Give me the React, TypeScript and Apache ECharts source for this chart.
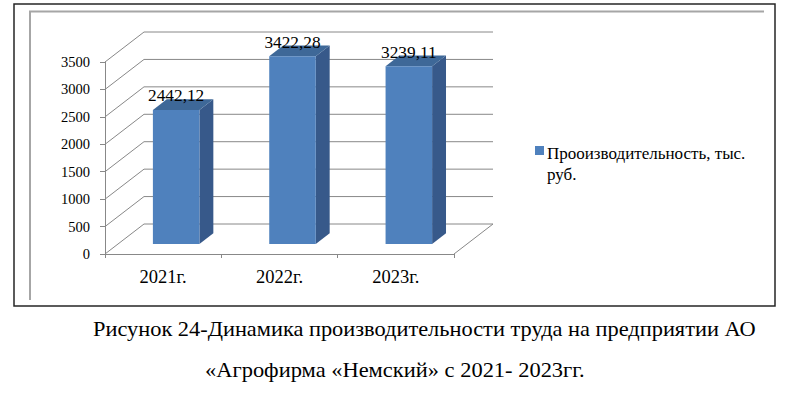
import React, { useEffect, useRef } from "react";
import * as echarts from "echarts";

const categories = ["2021г.", "2022г.", "2023г."];
const values = [2442.12, 3422.28, 3239.11];
const valueLabels = ["2442,12", "3422,28", "3239,11"];
const yTicks = [0, 500, 1000, 1500, 2000, 2500, 3000, 3500];
const seriesName = "Прооизводительность, тыс. руб.";
const captionLines = [
  "Рисунок 24-Динамика производительности труда на предприятии АО",
  "«Агрофирма «Немский» с 2021- 2023гг.",
];

const DX = 39;
const DY = -30;
const F1 = 1 / 3;
const F2 = 0.69;
const BAR_FRAC = 0.4;
const FONT = "Liberation Serif";
const font = (size: number) => `${size}px 'Liberation Serif', 'Times New Roman', serif`;
const FRONT = "#4F81BD";
const SIDE = "#37598A";
const TOP = "#3E6898";
const GRID = "#888888";

export default function App() {
  const ref = useRef<HTMLDivElement>(null);
  useEffect(() => {
    const chart = echarts.init(ref.current!, null, { renderer: "svg" });
    const option: any = {
      animation: false,
      grid: { left: 105, right: 346, top: 62, bottom: 143 },
      xAxis: {
        type: "category",
        data: categories,
        axisLine: { lineStyle: { color: GRID } },
        axisTick: { show: true, length: 4, lineStyle: { color: GRID } },
        axisLabel: { fontFamily: FONT, fontSize: 18.5, color: "#000", margin: 13 },
        splitLine: { show: false },
      },
      yAxis: {
        type: "value",
        min: 0,
        max: 3500,
        interval: 500,
        axisLine: { show: true, lineStyle: { color: GRID } },
        axisTick: { show: true, length: 5, lineStyle: { color: GRID } },
        axisLabel: {
          fontFamily: FONT,
          fontSize: 14.5,
          color: "#000",
          margin: 15,
          formatter: (v: number) => String(v),
        },
        splitLine: { show: false },
      },
      series: [
        {
          name: "walls",
          type: "custom",
          z: 1,
          silent: true,
          data: yTicks.map((v) => [0, v]),
          renderItem: (params: any, api: any) => {
            const v = api.value(1);
            const y = api.coord([0, v])[1];
            const cs = params.coordSys;
            const ls = { stroke: GRID, lineWidth: 1 };
            const children: any[] = [
              { type: "line", shape: { x1: cs.x, y1: y, x2: cs.x + DX, y2: y + DY }, style: ls },
              {
                type: "line",
                shape: { x1: cs.x + DX, y1: y + DY, x2: cs.x + cs.width + DX, y2: y + DY },
                style: ls,
              },
            ];
            if (v === 0) {
              children.push({
                type: "line",
                shape: { x1: cs.x + cs.width, y1: y, x2: cs.x + cs.width + DX, y2: y + DY },
                style: ls,
              });
            }
            return { type: "group", children };
          },
        },
        {
          name: seriesName,
          type: "custom",
          z: 5,
          itemStyle: { color: FRONT },
          data: values.map((v, i) => [i, v]),
          renderItem: (params: any, api: any) => {
            const i = api.value(0);
            const v = api.value(1);
            const top = api.coord([i, v]);
            const base = api.coord([i, 0]);
            const cw = api.size([1, 0])[0];
            const bw = cw * BAR_FRAC;
            const ox = DX * F1;
            const oy = DY * F1;
            const ddx = DX * (F2 - F1);
            const ddy = DY * (F2 - F1);
            const x0 = top[0] + ox - bw / 2;
            const x1 = x0 + bw;
            const yt = top[1] + oy;
            const yb = base[1] + oy;
            return {
              type: "group",
              children: [
                {
                  type: "polygon",
                  shape: { points: [[x1, yt], [x1 + ddx, yt + ddy], [x1 + ddx, yb + ddy], [x1, yb]] },
                  style: { fill: SIDE },
                },
                {
                  type: "polygon",
                  shape: { points: [[x0, yt], [x1, yt], [x1 + ddx, yt + ddy], [x0 + ddx, yt + ddy]] },
                  style: { fill: TOP },
                },
                { type: "rect", shape: { x: x0, y: yt, width: bw, height: yb - yt }, style: { fill: FRONT } },
                {
                  type: "text",
                  x: x0 + bw / 2,
                  y: yt + ddy + 5,
                  style: {
                    text: valueLabels[params.dataIndex],
                    fill: "#000",
                    font: font(17.3),
                    align: "center",
                    verticalAlign: "bottom",
                  },
                },
              ],
            };
          },
        },
      ],
      graphic: [
        {
          type: "rect",
          shape: { x: 14, y: 4, width: 761, height: 302 },
          style: { fill: "none", stroke: "#262626", lineWidth: 1.5 },
          z: 0,
        },
        { type: "line", shape: { x1: 29, y1: 11.5, x2: 764, y2: 11.5 }, style: { stroke: "#A6A6A6", lineWidth: 2 } },
        { type: "line", shape: { x1: 30, y1: 11, x2: 30, y2: 300 }, style: { stroke: "#A6A6A6", lineWidth: 2 } },
        { type: "rect", shape: { x: 535, y: 146, width: 9, height: 9 }, style: { fill: FRONT } },
        {
          type: "text",
          x: 547,
          y: 143,
          style: {
            text: seriesName.replace(", тыс. ", ", тыс.\n"),
            font: font(17),
            lineHeight: 21,
            fill: "#000",
            verticalAlign: "top",
          },
        },
        {
          type: "text",
          x: 93,
          y: 329,
          scaleX: 1.066,
          style: { text: captionLines[0], font: font(21), fill: "#000", verticalAlign: "middle" },
        },
        {
          type: "text",
          x: 205,
          y: 370,
          scaleX: 1.07,
          style: { text: captionLines[1], font: font(21), fill: "#000", verticalAlign: "middle" },
        },
      ],
    };
    chart.setOption(option);
    return () => chart.dispose();
  }, []);
  return (
    <div
      ref={ref}
      style={{ position: "absolute", left: 0, top: 0, width: 800, height: 397, background: "#fff" }}
    />
  );
}
